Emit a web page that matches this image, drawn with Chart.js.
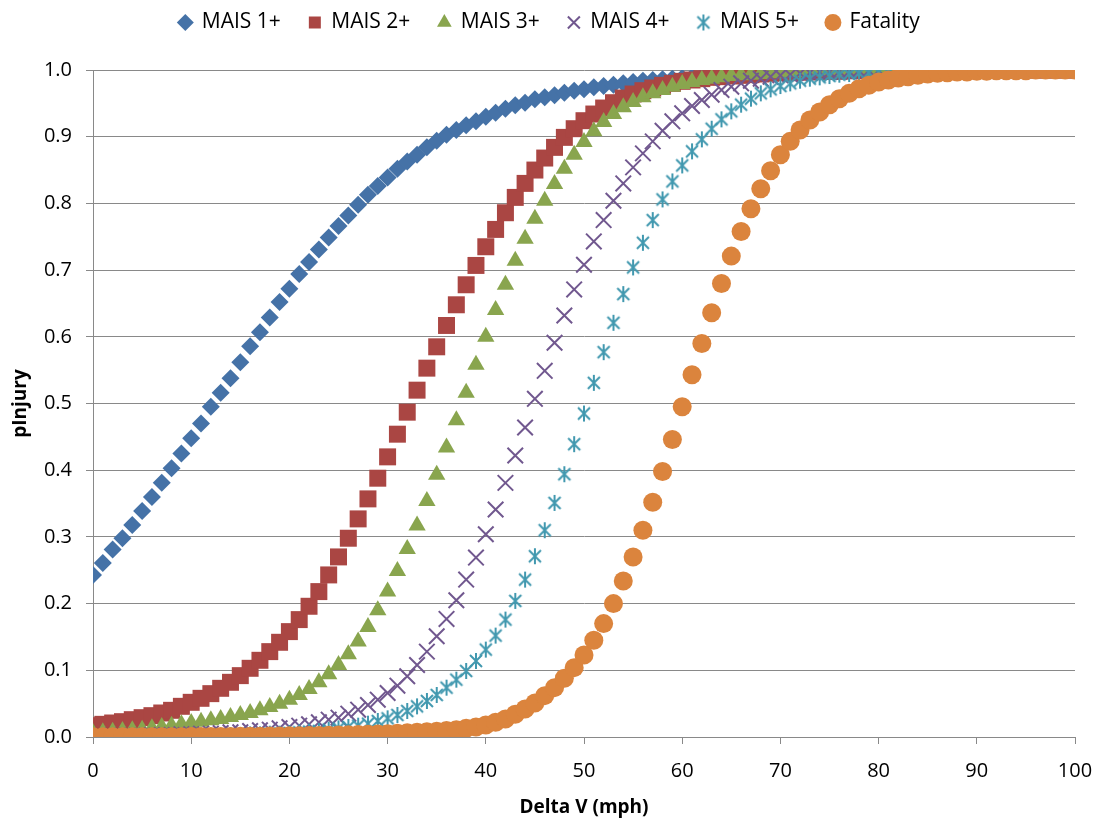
<!DOCTYPE html>
<html>
<head>
<meta charset="utf-8">
<script src="https://cdn.jsdelivr.net/npm/chart.js@4.4.0/dist/chart.umd.min.js"></script>
<style>
  html, body { margin: 0; padding: 0; background: #fff; }
  #wrap { width: 1099px; height: 820px; }
</style>
</head>
<body>
<div id="wrap"><canvas id="chart" width="1099" height="820"></canvas></div>
<script>
"use strict";

// Delta V in mph, one point per mph
const deltaV = Array.from({length: 101}, (_, i) => i);

// probability of injury, index = mph
const mais1 = [
  0.243, 0.261, 0.281, 0.298, 0.318, 0.339, 0.360, 0.381, 0.403, 0.425,
  0.448, 0.470, 0.495, 0.516, 0.538, 0.562, 0.586, 0.607, 0.629, 0.652,
  0.672, 0.694, 0.712, 0.731, 0.749, 0.766, 0.782, 0.798, 0.813, 0.826,
  0.839, 0.852, 0.863, 0.873, 0.884, 0.894, 0.903, 0.910, 0.917, 0.923,
  0.930, 0.936, 0.942, 0.947, 0.951, 0.956, 0.959, 0.962, 0.966, 0.969,
  0.971, 0.974, 0.976, 0.978, 0.980, 0.982, 0.984, 0.985, 0.986, 0.987,
  0.988, 0.989, 0.990, 0.991, 0.992, 0.993, 0.993, 0.994, 0.995, 0.995,
  0.996, 0.996, 0.997, 0.997, 0.997, 0.998, 0.998, 0.998, 0.998, 0.999,
  0.999, 0.999, 0.999, 0.999, 0.999, 0.999, 0.999, 1.000, 1.000, 1.000,
  1.000, 1.000, 1.000, 1.000, 1.000, 1.000, 1.000, 1.000, 1.000, 1.000, 1.000
];
const mais2 = [
  0.017, 0.019, 0.021, 0.023, 0.026, 0.029, 0.032, 0.036, 0.040, 0.046,
  0.052, 0.058, 0.065, 0.073, 0.082, 0.092, 0.103, 0.115, 0.128, 0.142,
  0.158, 0.176, 0.196, 0.218, 0.243, 0.270, 0.298, 0.327, 0.357, 0.388,
  0.420, 0.454, 0.487, 0.520, 0.553, 0.585, 0.617, 0.648, 0.678, 0.707,
  0.735, 0.761, 0.786, 0.809, 0.830, 0.850, 0.868, 0.884, 0.899, 0.912,
  0.924, 0.934, 0.943, 0.951, 0.958, 0.964, 0.969, 0.973, 0.977, 0.980,
  0.983, 0.985, 0.987, 0.989, 0.990, 0.991, 0.992, 0.993, 0.994, 0.995,
  0.996, 0.996, 0.997, 0.997, 0.998, 0.998, 0.998, 0.999, 0.999, 0.999,
  0.999, 0.999, 0.999, 0.999, 1.000, 1.000, 1.000, 1.000, 1.000, 1.000,
  1.000, 1.000, 1.000, 1.000, 1.000, 1.000, 1.000, 1.000, 1.000, 1.000, 1.000
];
const mais3 = [
  0.006, 0.007, 0.008, 0.009, 0.010, 0.011, 0.013, 0.015, 0.017, 0.019,
  0.021, 0.023, 0.025, 0.027, 0.030, 0.033, 0.036, 0.040, 0.045, 0.050,
  0.056, 0.063, 0.072, 0.082, 0.094, 0.108, 0.124, 0.143, 0.165, 0.190,
  0.218, 0.249, 0.282, 0.317, 0.354, 0.393, 0.434, 0.475, 0.516, 0.558,
  0.600, 0.640, 0.678, 0.714, 0.747, 0.777, 0.804, 0.829, 0.852, 0.873,
  0.892, 0.908, 0.922, 0.934, 0.944, 0.952, 0.959, 0.965, 0.970, 0.975,
  0.979, 0.982, 0.985, 0.987, 0.989, 0.991, 0.992, 0.993, 0.994, 0.995,
  0.996, 0.997, 0.997, 0.998, 0.998, 0.998, 0.999, 0.999, 0.999, 0.999,
  0.999, 0.999, 1.000, 1.000, 1.000, 1.000, 1.000, 1.000, 1.000, 1.000,
  1.000, 1.000, 1.000, 1.000, 1.000, 1.000, 1.000, 1.000, 1.000, 1.000, 1.000
];
const mais4 = [
  0.001, 0.001, 0.002, 0.002, 0.002, 0.002, 0.003, 0.003, 0.003, 0.004,
  0.004, 0.005, 0.005, 0.006, 0.007, 0.007, 0.009, 0.010, 0.011, 0.013,
  0.015, 0.017, 0.019, 0.022, 0.026, 0.029, 0.035, 0.041, 0.048, 0.056,
  0.066, 0.077, 0.091, 0.108, 0.128, 0.151, 0.177, 0.205, 0.236, 0.269,
  0.304, 0.341, 0.381, 0.422, 0.464, 0.507, 0.549, 0.591, 0.632, 0.671,
  0.708, 0.743, 0.775, 0.804, 0.830, 0.854, 0.875, 0.893, 0.909, 0.923,
  0.935, 0.946, 0.955, 0.963, 0.970, 0.975, 0.980, 0.984, 0.987, 0.990,
  0.992, 0.993, 0.995, 0.996, 0.997, 0.997, 0.998, 0.998, 0.999, 0.999,
  0.999, 0.999, 0.999, 1.000, 1.000, 1.000, 1.000, 1.000, 1.000, 1.000,
  1.000, 1.000, 1.000, 1.000, 1.000, 1.000, 1.000, 1.000, 1.000, 1.000, 1.000
];
const mais5 = [
  0.000, 0.000, 0.001, 0.001, 0.001, 0.001, 0.001, 0.001, 0.001, 0.001,
  0.002, 0.002, 0.002, 0.002, 0.003, 0.003, 0.004, 0.004, 0.005, 0.005,
  0.006, 0.007, 0.008, 0.009, 0.011, 0.013, 0.015, 0.017, 0.020, 0.024,
  0.028, 0.033, 0.039, 0.046, 0.054, 0.063, 0.074, 0.086, 0.099, 0.114,
  0.131, 0.152, 0.176, 0.204, 0.236, 0.271, 0.310, 0.351, 0.394, 0.439,
  0.485, 0.531, 0.577, 0.621, 0.664, 0.704, 0.741, 0.775, 0.806, 0.833,
  0.857, 0.878, 0.896, 0.912, 0.926, 0.938, 0.948, 0.957, 0.965, 0.971,
  0.976, 0.980, 0.984, 0.987, 0.989, 0.991, 0.993, 0.994, 0.995, 0.996,
  0.997, 0.997, 0.998, 0.998, 0.998, 0.999, 0.999, 0.999, 0.999, 0.999,
  1.000, 1.000, 1.000, 1.000, 1.000, 1.000, 1.000, 1.000, 1.000, 1.000, 1.000
];
const fatality = [
  0.0002, 0.0002, 0.0002, 0.0003, 0.0003, 0.0003, 0.0004, 0.0004, 0.0005, 0.0005,
  0.0006, 0.0007, 0.0007, 0.0008, 0.0009, 0.0010, 0.0011, 0.0012, 0.0014, 0.0015,
  0.0017, 0.0019, 0.0021, 0.0023, 0.0026, 0.0029, 0.0032, 0.0036, 0.0040, 0.0045,
  0.0050, 0.0056, 0.0062, 0.0070, 0.0078, 0.0087, 0.0097, 0.011, 0.013, 0.015,
  0.018, 0.022, 0.027, 0.034, 0.042, 0.051, 0.062, 0.074, 0.088, 0.104,
  0.123, 0.145, 0.170, 0.200, 0.234, 0.270, 0.310, 0.352, 0.398, 0.446,
  0.495, 0.543, 0.590, 0.636, 0.680, 0.721, 0.758, 0.792, 0.822, 0.849,
  0.873, 0.893, 0.910, 0.925, 0.937, 0.948, 0.957, 0.965, 0.972, 0.977,
  0.982, 0.985, 0.988, 0.990, 0.992, 0.994, 0.995, 0.996, 0.997, 0.997,
  0.998, 0.998, 0.999, 0.999, 0.999, 0.999, 1.000, 1.000, 1.000, 1.000, 1.000
];

const seriesNames = ['MAIS 1+', 'MAIS 2+', 'MAIS 3+', 'MAIS 4+', 'MAIS 5+', 'Fatality'];
const xTicks = [0, 10, 20, 30, 40, 50, 60, 70, 80, 90, 100];
const yTicks = [0.0, 0.1, 0.2, 0.3, 0.4, 0.5, 0.6, 0.7, 0.8, 0.9, 1.0];

const FONT = '"Open Sans", "Noto Sans", sans-serif';
const GRID = '#898989';

// excel style asterisk marker (x with a vertical bar)
function asterisk(color) {
    const c = document.createElement('canvas');
    c.width = 18;
    c.height = 18;
    const g = c.getContext('2d');
    g.strokeStyle = color;
    g.lineWidth = 2;
    g.beginPath();
    g.moveTo(9, 1); g.lineTo(9, 17);
    g.moveTo(3, 3); g.lineTo(15, 15);
    g.moveTo(15, 3); g.lineTo(3, 15);
    g.stroke();
    return c;
}

const toPoints = (ys) => ys.map((y, i) => ({x: deltaV[i], y: y}));

// one entry per series: values, colour, marker
const styles = [
    {data: mais1, color: '#4572A7', style: 'rectRot', radius: 9, bw: 0},
    {data: mais2, color: '#AA4643', style: 'rect', radius: 12, bw: 0},
    {data: mais3, color: '#89A54E', style: 'triangle', radius: 10, bw: 0},
    {data: mais4, color: '#71588F', style: 'crossRot', radius: 11, bw: 2},
    {data: mais5, color: '#4198AF', style: asterisk('#4198AF'), radius: 9, bw: 0},
    {data: fatality, color: '#DB843D', style: 'circle', radius: 9.5, bw: 0}
];

const datasets = styles.map((s, i) => ({
    label: seriesNames[i],
    data: toPoints(s.data),
    showLine: false,
    backgroundColor: s.color,
    borderColor: s.color,
    borderWidth: s.bw,
    pointStyle: s.style,
    pointRadius: s.radius,
    pointHoverRadius: s.radius,
    pointBackgroundColor: s.color,
    pointBorderColor: s.color,
    pointBorderWidth: s.bw,
    // last series on top, like the spreadsheet
    order: styles.length - i
}));

// push the plot down below the legend
const legendGap = {
    id: 'legendGap',
    afterInit(chart) {
        const fit = chart.legend.fit;
        chart.legend.fit = function () {
            fit.call(this);
            this.height += 27;
        };
    }
};

new Chart(document.querySelector('#chart'), {
    type: 'scatter',
    data: {datasets: datasets},
    plugins: [legendGap],
    options: {
        responsive: false,
        animation: false,
        layout: {padding: {top: -16, right: 24, bottom: 0, left: 24}},
        plugins: {
            tooltip: {enabled: false},
            legend: {
                position: 'top',
                labels: {
                    usePointStyle: true,
                    boxWidth: 12,
                    boxHeight: 12,
                    padding: 28,
                    color: '#000',
                    font: {family: FONT, size: 21},
                    sort: (a, b) => a.datasetIndex - b.datasetIndex
                }
            }
        },
        scales: {
            x: {
                type: 'linear',
                min: 0,
                max: 100,
                afterBuildTicks: (scale) => { scale.ticks = xTicks.map(v => ({value: v})); },
                ticks: {color: '#000', font: {family: FONT, size: 20}, padding: 15},
                grid: {drawOnChartArea: false, drawTicks: true, tickLength: 7, color: GRID},
                border: {color: GRID, width: 1},
                title: {
                    display: true,
                    text: 'Delta V (mph)',
                    color: '#000',
                    font: {family: FONT, size: 19, weight: 'bold'},
                    padding: {top: 2, bottom: 1}
                },
                afterFit: (scale) => {
                    scale.height = 83;
                    // let layout.padding decide the left and right edges
                    scale.paddingRight = 0;
                    scale.paddingLeft = 0;
                }
            },
            y: {
                type: 'linear',
                min: 0,
                max: 1,
                afterBuildTicks: (scale) => { scale.ticks = yTicks.map(v => ({value: v})); },
                ticks: {
                    color: '#000',
                    font: {family: FONT, size: 20},
                    padding: 14,
                    callback: (v) => v.toFixed(1)
                },
                grid: {color: GRID, tickLength: 7},
                border: {color: GRID, width: 1},
                title: {
                    display: true,
                    text: 'pInjury',
                    color: '#000',
                    font: {family: FONT, size: 19, weight: 'bold'},
                    // title sits out in the left padding, as in the original
                    padding: {top: -15, bottom: 4}
                },
                afterFit: (scale) => { scale.width = 69; }
            }
        }
    }
});
</script>
</body>
</html>
